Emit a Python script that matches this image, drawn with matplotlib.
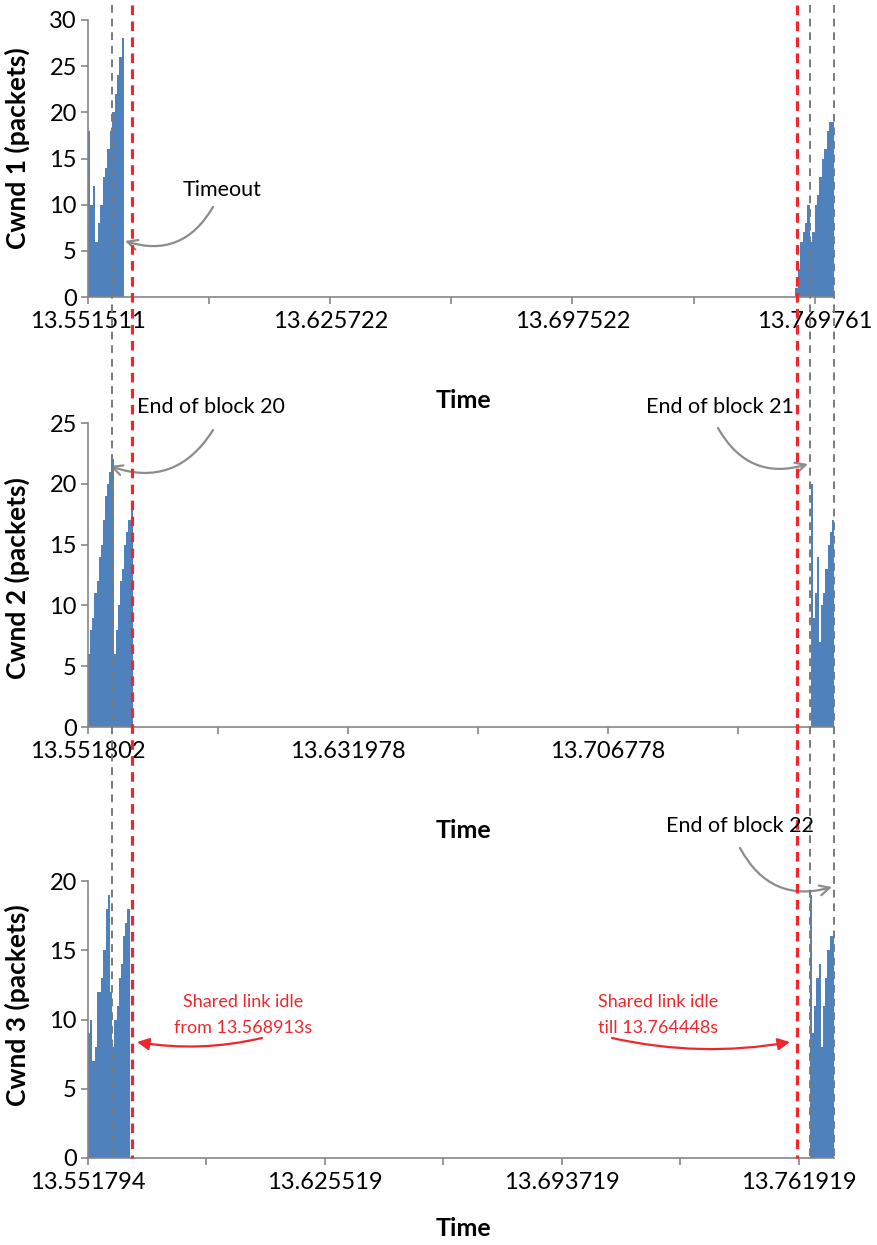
import matplotlib
matplotlib.use("Agg")
import matplotlib.pyplot as plt
from matplotlib.lines import Line2D
from matplotlib.transforms import blended_transform_factory

# cwnd per sample slot, at the start and at the end of each flow's window
cwnd1_start = [18, 10, 12, 6, 8, 10, 13, 14, 16, 18, 20, 22, 24, 26, 28]
cwnd1_end = [1, 3, 6, 7, 8, 10, 6, 7, 10, 11, 13, 15, 16, 18, 19, 19]
cwnd2_start = [6, 8, 9, 11, 12, 14, 15, 17, 19, 20, 21, 22,
               6, 8, 10, 12, 13, 15, 16, 17, 18]
cwnd2_end = [20, 9, 11, 14, 7, 10, 11, 13, 15, 16, 17]
cwnd3_start = [9, 10, 7, 8, 12, 12, 13, 15, 18, 19,
               12, 8, 10, 11, 13, 14, 16, 17, 18]
cwnd3_end = [19, 9, 11, 13, 14, 8, 11, 13, 15, 16, 16]

n_samples = [308, 350, 340]
tick_every = [50, 61, 54]
time_labels1 = ["13.551511", "13.625722", "13.697522", "13.769761"]
time_labels2 = ["13.551802", "13.631978", "13.706778"]
time_labels3 = ["13.551794", "13.625519", "13.693719", "13.761919"]
y_max = [30, 25, 20]
y_titles = ["Cwnd 1 (packets)", "Cwnd 2 (packets)", "Cwnd 3 (packets)"]

# events, as sample index on the Cwnd 3 axis
block_end_idx = [11, 329, 340]
link_idle_idx = [20, 323]

BLUE = "#4f81bd"
AXIS = "#868686"
GREY = "#7a7a7a"
RED = "#f0262d"

plt.rcParams["font.family"] = ["Lato", "DejaVu Sans"]

W, H = 878, 1245
fig = plt.figure(figsize=(W / 100, H / 100), dpi=100)


def fpx(x, y):
    return (x, H - y)


starts = [cwnd1_start, cwnd2_start, cwnd3_start]
ends = [cwnd1_end, cwnd2_end, cwnd3_end]
labels = [time_labels1, time_labels2, time_labels3]
boxes = [(20, 297), (423, 727), (881, 1158)]
title_y = [148, 578, 1005]
time_y = [400, 830, 1228]
axes = []
for i, (top, bot) in enumerate(boxes):
    ax = fig.add_axes([88 / W, 1 - bot / H, (834 - 88) / W, (bot - top) / H])
    n = n_samples[i]
    s, e = starts[i], ends[i]
    ax.stairs(s, range(len(s) + 1), fill=True, color=BLUE)
    ax.stairs(e, range(n - len(e), n + 1), fill=True, color=BLUE)
    ax.set_xlim(0, n)
    ax.set_ylim(0, y_max[i])
    ax.set_yticks(range(0, y_max[i] + 1, 5))
    ax.set_xticks(range(0, n, 2 * tick_every[i]))
    ax.set_xticklabels(labels[i])
    ax.set_xticks(range(tick_every[i], n, 2 * tick_every[i]), minor=True)
    for side in ["top", "right"]:
        ax.spines[side].set_visible(False)
    for side in ["left", "bottom"]:
        ax.spines[side].set_color(AXIS)
        ax.spines[side].set_linewidth(1.2)
    ax.tick_params(which="both", direction="out", length=5, width=1.2,
                   color=AXIS, labelsize=17, pad=3)
    ax.tick_params(axis="x", pad=5)
    ax.set_facecolor("none")
    fig.text(17 / W, 1 - title_y[i] / H, y_titles[i], rotation=90,
             ha="center", va="center", fontsize=19, fontweight="bold")
    fig.text(463 / W, 1 - time_y[i] / H, "Time", ha="center", va="center",
             fontsize=18, fontweight="bold")
    axes.append(ax)

# dashed markers spanning all three panels
trans = blended_transform_factory(axes[2].transData, fig.transFigure)
for idx in block_end_idx:
    fig.add_artist(Line2D([idx, idx], [1 - 5 / H, 1 - 1158 / H], transform=trans,
                          color=GREY, lw=1.4, ls=(0, (4, 3))))
for idx in link_idle_idx:
    fig.add_artist(Line2D([idx, idx], [1 - 5 / H, 1 - 1158 / H], transform=trans,
                          color=RED, lw=2.3, ls=(0, (3, 2))))

notes = [
    ("Timeout", (222, 190), (213, 207), (125, 241), -0.4),
    ("End of block 20", (211, 407), (213, 430), (110, 466), -0.4),
    ("End of block 21", (720, 407), (718, 428), (808, 464), 0.4),
    ("End of block 22", (740, 826), (740, 848), (832, 887), 0.4),
]
for text, tpos, a, b, rad in notes:
    fig.text(tpos[0] / W, 1 - tpos[1] / H, text, ha="center", va="center",
             fontsize=15.5)
    axes[0].annotate("", xy=fpx(*b), xytext=fpx(*a), xycoords="figure pixels",
                     textcoords="figure pixels", annotation_clip=False,
                     arrowprops=dict(arrowstyle="->", color="#8c8c8c", lw=1.6,
                                     mutation_scale=18,
                                     connectionstyle="arc3,rad=%s" % rad,
                                     shrinkA=0, shrinkB=0))

red_notes = [
    ("Shared link idle\nfrom 13.568913s", (243, 1015), (262, 1038), (137, 1042), -0.1),
    ("Shared link idle\ntill 13.764448s", (658, 1015), (612, 1038), (790, 1042), 0.1),
]
for text, tpos, a, b, rad in red_notes:
    fig.text(tpos[0] / W, 1 - tpos[1] / H, text, ha="center", va="center",
             fontsize=13, color=RED, linespacing=1.8)
    axes[0].annotate("", xy=fpx(*b), xytext=fpx(*a), xycoords="figure pixels",
                     textcoords="figure pixels", annotation_clip=False,
                     arrowprops=dict(arrowstyle="-|>", color=RED, lw=1.6,
                                     mutation_scale=18,
                                     connectionstyle="arc3,rad=%s" % rad,
                                     shrinkA=0, shrinkB=0))

fig.savefig("out.png", dpi=100, facecolor="white")
